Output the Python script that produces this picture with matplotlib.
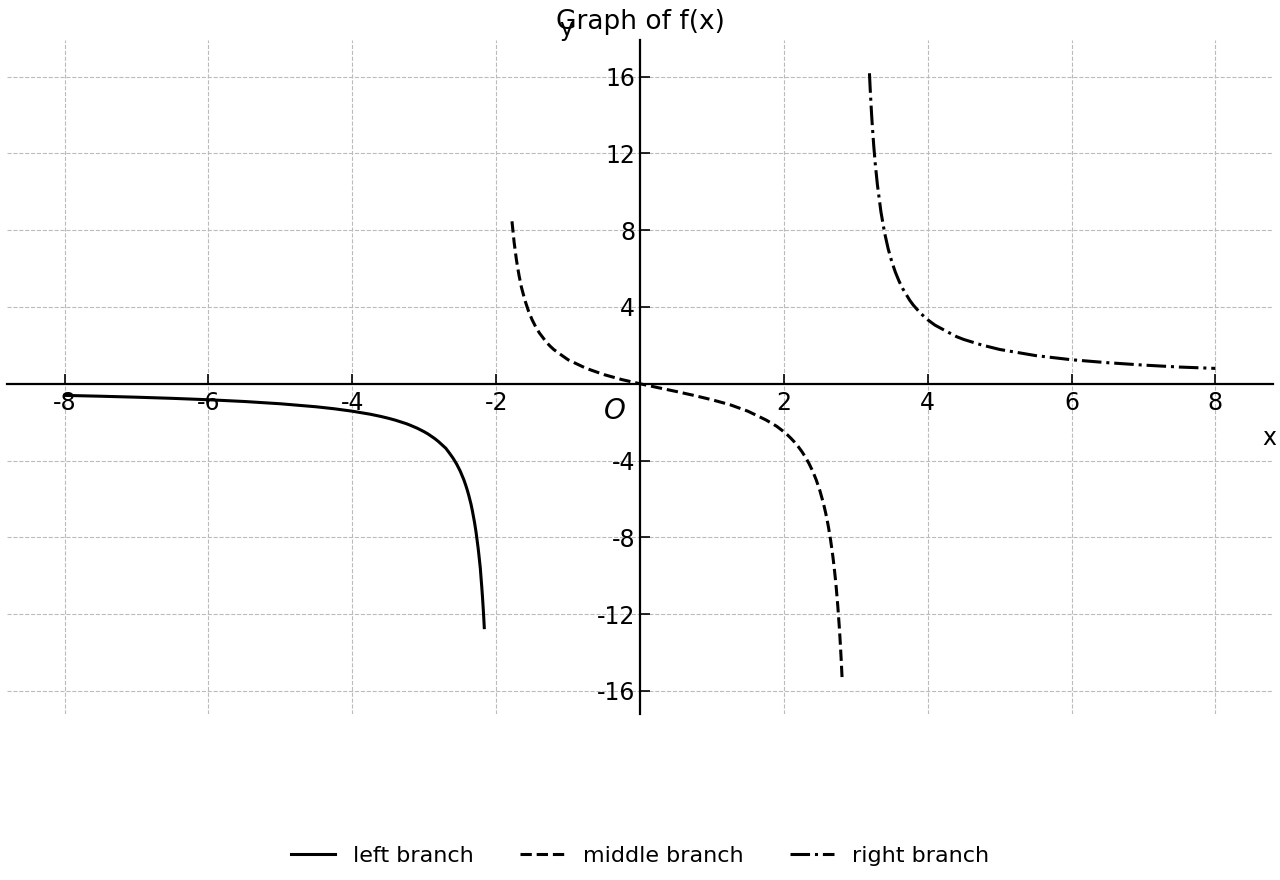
import matplotlib
matplotlib.use("Agg")
import matplotlib.pyplot as plt

plt.rcParams["axes.unicode_minus"] = False

# values
left_x = [-8, -7.5, -7, -6.5, -6, -5.5, -5, -4.5, -4.25, -4, -3.75, -3.6, -3.5, -3.4, -3.25,
          -3.2, -3.1, -3, -2.95, -2.9, -2.85, -2.8, -2.75, -2.7, -2.65, -2.6, -2.55, -2.5, -2.45,
          -2.42, -2.4, -2.38, -2.35, -2.33, -2.3, -2.28, -2.25, -2.24, -2.22, -2.21, -2.2, -2.19,
          -2.18, -2.17, -2.165]
left_y = [-0.606, -0.649, -0.7, -0.76, -0.833, -0.924, -1.042, -1.2, -1.303, -1.429, -1.587,
          -1.705, -1.795, -1.897, -2.078, -2.151, -2.31, -2.5, -2.609, -2.736, -2.866, -3.017,
          -3.188, -3.358, -3.608, -3.869, -4.177, -4.545, -4.99, -5.315, -5.556, -5.821, -6.264,
          -6.623, -7.233, -7.711, -8.571, -8.906, -9.61, -10.1, -10.58, -11.1, -11.69, -12.34,
          -12.7]

mid_x = [-1.78, -1.75, -1.72, -1.7, -1.68, -1.65, -1.6, -1.55, -1.5, -1.45, -1.4, -1.3, -1.25,
         -1.2, -1.1, -1, -0.75, -0.5, -0.25, 0, 0.25, 0.5, 0.75, 1, 1.25, 1.5, 1.75, 1.9, 2,
         2.05, 2.1, 2.15, 2.2, 2.25, 2.3, 2.35, 2.4, 2.45, 2.5, 2.55, 2.58, 2.6, 2.62, 2.65,
         2.68, 2.7, 2.72, 2.73, 2.75, 2.77, 2.78, 2.79, 2.8, 2.81]
mid_y = [8.46, 7.368, 6.507, 6.028, 5.609, 5.049, 4.348, 3.785, 3.333, 2.962, 2.652, 2.159,
         1.961, 1.786, 1.514, 1.25, 0.805, 0.476, 0.215, 0.0, -0.202, -0.4, -0.608, -0.833,
         -1.09, -1.429, -1.882, -2.214, -2.5, -2.664, -2.846, -3.047, -3.274, -3.529, -3.821,
         -4.156, -4.545, -5.005, -5.556, -6.227, -6.706, -7.065, -7.462, -8.141, -8.948, -9.574,
         -10.29, -10.69, -11.58, -12.62, -13.22, -13.87, -14.58, -15.37]

right_x = [3.19, 3.2, 3.21, 3.22, 3.23, 3.25, 3.27, 3.3, 3.35, 3.4, 3.45, 3.5, 3.55, 3.6, 3.65,
           3.75, 3.8, 3.9, 4, 4.1, 4.25, 4.4, 4.5, 4.75, 5, 5.5, 6, 6.5, 7, 7.5, 8]
right_y = [16.17, 15.38, 14.67, 14.02, 13.43, 12.38, 11.49, 10.38, 8.945, 7.87, 7.034, 6.364,
           5.815, 5.357, 4.969, 4.348, 4.095, 3.672, 3.333, 3.055, 2.752, 2.455, 2.308, 2.02,
           1.786, 1.467, 1.25, 1.097, 0.972, 0.87, 0.8]

x_ticks = [-8, -6, -4, -2, 2, 4, 6, 8]
y_ticks = [-16, -12, -8, -4, 4, 8, 12, 16]

fig = plt.figure(figsize=(12.8, 8.8), dpi=100)
ax = fig.add_axes([0.0055, 0.1886, 0.989, 0.7659])

ax.plot(left_x, left_y, color="black", lw=2.2, linestyle="-", label="left branch")
ax.plot(mid_x, mid_y, color="black", lw=2.2, linestyle="--", label="middle branch")
ax.plot(right_x, right_y, color="black", lw=2.2, linestyle="-.", label="right branch")

ax.set_xlim(-8.8, 8.8)
ax.set_ylim(-17.2, 17.9)

# axes through the origin
ax.spines["left"].set_position(("data", 0))
ax.spines["bottom"].set_position(("data", 0))
ax.spines["right"].set_visible(False)
ax.spines["top"].set_visible(False)
ax.spines["left"].set_linewidth(1.6)
ax.spines["bottom"].set_linewidth(1.6)

ax.set_xticks(x_ticks)
ax.set_yticks(y_ticks)
ax.set_xticklabels([str(t) for t in x_ticks])
ax.set_yticklabels([str(t) for t in y_ticks])
ax.tick_params(direction="in", length=7, width=1.2, labelsize=17)
ax.tick_params(axis="x", pad=5.5)
ax.grid(True, linestyle="--", color="#bbbbbb", linewidth=0.8)

ax.text(-0.35, -1.4, "O", fontsize=20, style="italic", ha="center", va="center")
ax.text(8.75, -2.8, "x", fontsize=17, ha="center", va="center")
ax.text(-1.02, 18.45, "y", fontsize=17, ha="center", va="center")
ax.set_title("Graph of f(x)", fontsize=19, pad=8)

fig.legend(loc="lower center", bbox_to_anchor=(0.5, -0.007), ncol=3, frameon=False,
           fontsize=16, handlelength=2.0, columnspacing=2.1)

fig.savefig("out.png", dpi=100)
